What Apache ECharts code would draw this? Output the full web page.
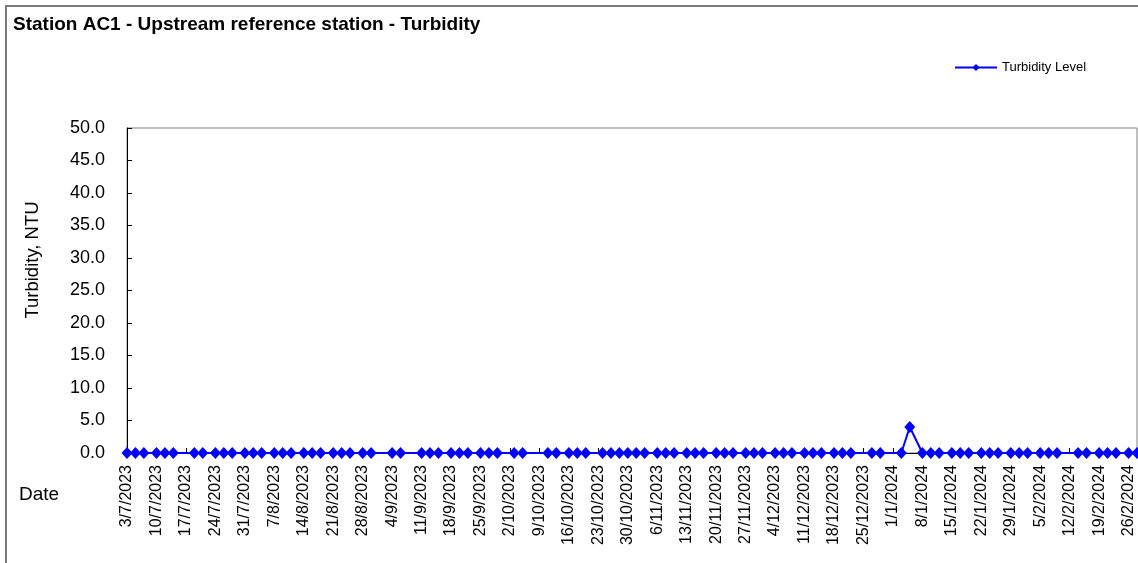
<!DOCTYPE html>
<html>
<head>
<meta charset="utf-8">
<script src="https://cdn.jsdelivr.net/npm/echarts@6/dist/echarts.min.js"></script>
<style>
  html, body { margin: 0; padding: 0; background: #fff; }
  #chart { width: 1138px; height: 563px; }
</style>
</head>
<body>
<div id="chart"></div>
<script>
// sampling dates (d/m/yyyy), one row per month
const sampleDates = [
  '3/7/2023', '5/7/2023', '7/7/2023', '10/7/2023', '12/7/2023', '14/7/2023', '19/7/2023', '21/7/2023', '24/7/2023', '26/7/2023', '28/7/2023', '31/7/2023',
  '2/8/2023', '4/8/2023', '7/8/2023', '9/8/2023', '11/8/2023', '14/8/2023', '16/8/2023', '18/8/2023', '21/8/2023', '23/8/2023', '25/8/2023', '28/8/2023', '30/8/2023',
  '4/9/2023', '6/9/2023', '11/9/2023', '13/9/2023', '15/9/2023', '18/9/2023', '20/9/2023', '22/9/2023', '25/9/2023', '27/9/2023', '29/9/2023',
  '3/10/2023', '5/10/2023', '11/10/2023', '13/10/2023', '16/10/2023', '18/10/2023', '20/10/2023', '24/10/2023', '26/10/2023', '28/10/2023', '30/10/2023',
  '1/11/2023', '3/11/2023', '6/11/2023', '8/11/2023', '10/11/2023', '13/11/2023', '15/11/2023', '17/11/2023', '20/11/2023', '22/11/2023', '24/11/2023', '27/11/2023', '29/11/2023',
  '1/12/2023', '4/12/2023', '6/12/2023', '8/12/2023', '11/12/2023', '13/12/2023', '15/12/2023', '18/12/2023', '20/12/2023', '22/12/2023', '27/12/2023', '29/12/2023',
  '3/1/2024', '5/1/2024', '8/1/2024', '10/1/2024', '12/1/2024', '15/1/2024', '17/1/2024', '19/1/2024', '22/1/2024', '24/1/2024', '26/1/2024', '29/1/2024', '31/1/2024',
  '2/2/2024', '5/2/2024', '7/2/2024', '9/2/2024', '14/2/2024', '16/2/2024', '19/2/2024', '21/2/2024', '23/2/2024', '26/2/2024', '28/2/2024'
];

// turbidity, NTU (same rows as above)
const turbidity = [
  0, 0, 0, 0, 0, 0, 0, 0, 0, 0, 0, 0,
  0, 0, 0, 0, 0, 0, 0, 0, 0, 0, 0, 0, 0,
  0, 0, 0, 0, 0, 0, 0, 0, 0, 0, 0,
  0, 0, 0, 0, 0, 0, 0, 0, 0, 0, 0,
  0, 0, 0, 0, 0, 0, 0, 0, 0, 0, 0, 0, 0,
  0, 0, 0, 0, 0, 0, 0, 0, 0, 0, 0, 0,
  0, 4.0, 0, 0, 0, 0, 0, 0, 0, 0, 0, 0, 0,
  0, 0, 0, 0, 0, 0, 0, 0, 0, 0, 0
];

// axis range (dates) and y ticks
const axisStart = '3/7/2023';
const axisEnd = '28/2/2024';
const tickDays = 7;
const yTicks = [0, 5, 10, 15, 20, 25, 30, 35, 40, 45, 50];

const DAY = 86400000;
function toUtc(s) {
  let p = s.split('/');
  return Date.UTC(+p[2], +p[1] - 1, +p[0]);
}
const base = toUtc(axisStart);
function dayOf(s) { return Math.round((toUtc(s) - base) / DAY); }
function dateLabel(v) {
  let d = new Date(base + v * DAY);
  return d.getUTCDate() + '/' + (d.getUTCMonth() + 1) + '/' + d.getUTCFullYear();
}

const seriesData = sampleDates.map((s, i) => [dayOf(s), turbidity[i]]);
const font = 'Arial, "Liberation Sans", sans-serif';

let myChart = echarts.init(document.getElementById('chart'));
myChart.setOption({
  animation: false,
  title: {
    text: 'Station AC1 - Upstream reference station - Turbidity',
    left: 8,
    top: 10,
    textStyle: { fontFamily: font, fontSize: 19, fontWeight: 'bold', color: '#000' }
  },
  legend: {
    data: ['Turbidity Level'],
    left: 949,
    top: 56,
    itemWidth: 42,
    itemHeight: 9,
    itemGap: 5,
    textStyle: { fontFamily: font, fontSize: 13, color: '#000' }
  },
  graphic: [
    {
      type: 'rect',
      shape: { x: 6, y: 6, width: 1200, height: 600 },
      style: { fill: 'none', stroke: '#7a7a7a', lineWidth: 2 },
      silent: true
    },
    {
      type: 'text',
      x: 33, y: 260,
      rotation: Math.PI / 2,
      style: { text: 'Turbidity, NTU', fontFamily: font, fontSize: 18.5, fill: '#000', align: 'center', verticalAlign: 'middle' }
    },
    {
      type: 'text',
      x: 19, y: 495,
      style: { text: 'Date', fontFamily: font, fontSize: 19, fill: '#000', align: 'left', verticalAlign: 'middle' }
    }
  ],
  grid: {
    left: 127,
    top: 128,
    right: 1,
    bottom: 110,
    outerBoundsMode: 'none',
    show: true,
    borderColor: '#808080',
    borderWidth: 1,
    backgroundColor: 'transparent'
  },
  xAxis: {
    type: 'value',
    min: 0,
    max: dayOf(axisEnd),
    interval: tickDays,
    splitLine: { show: false },
    axisLine: { lineStyle: { color: '#000', width: 1 } },
    axisTick: { inside: true, length: 5, lineStyle: { color: '#000' } },
    axisLabel: {
      rotate: 90,
      margin: 12,
      showMaxLabel: false,
      fontFamily: font,
      fontSize: 16,
      color: '#000',
      formatter: v => (v % tickDays === 0 ? dateLabel(v) : '')
    }
  },
  yAxis: {
    type: 'value',
    min: yTicks[0],
    max: yTicks[yTicks.length - 1],
    interval: yTicks[1] - yTicks[0],
    splitLine: { show: false },
    axisLine: { show: true, lineStyle: { color: '#000', width: 1 } },
    axisTick: { show: true, inside: true, length: 5, lineStyle: { color: '#000' } },
    axisLabel: {
      margin: 22,
      fontFamily: font,
      fontSize: 18,
      color: '#000',
      formatter: v => v.toFixed(1)
    }
  },
  series: [
    {
      name: 'Turbidity Level',
      type: 'line',
      data: seriesData,
      symbol: 'diamond',
      symbolSize: [11, 12],
      showAllSymbol: true,
      lineStyle: { color: '#0000FF', width: 2 },
      itemStyle: { color: '#0000FF' }
    }
  ]
});
</script>
</body>
</html>
